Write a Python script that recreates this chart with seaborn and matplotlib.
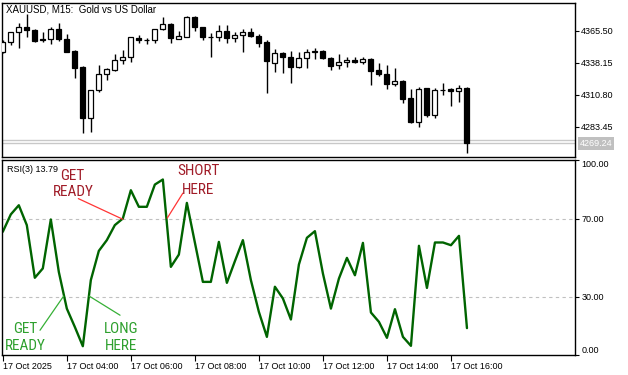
import numpy as np
import pandas as pd
import matplotlib
matplotlib.use("Agg")
import matplotlib.pyplot as plt
import matplotlib.transforms as mtransforms
from matplotlib import font_manager as fm
import seaborn as sns

sns.set_style("white")
plt.rcParams["font.family"] = ["Liberation Sans", "DejaVu Sans"]

# ---------------- data ----------------
opens = [4347.58, 4355.56, 4364.10, 4368.38, 4366.10, 4358.12, 4358.41, 4366.95, 4358.41, 4348.44,
         4334.47, 4290.60, 4314.82, 4328.49, 4332.20, 4340.17, 4342.74, 4358.98, 4357.27, 4357.27,
         4366.67, 4371.23, 4358.69, 4360.40, 4376.93, 4368.38, 4359.83, 4359.83, 4365.53, 4358.98,
         4361.54, 4364.10, 4360.97, 4355.56, 4338.18, 4346.16, 4342.74, 4334.19, 4341.88, 4347.30,
         4348.15, 4341.88, 4335.90, 4338.46, 4340.46, 4338.46, 4341.31, 4331.92, 4328.49, 4319.66,
         4322.51, 4307.70, 4287.75, 4316.24, 4293.45, 4314.82, 4315.39, 4314.25, 4316.81]
highs = [4357.55, 4364.68, 4371.80, 4379.77, 4366.95, 4364.10, 4368.38, 4371.80, 4362.68, 4349.01,
         4334.90, 4315.20, 4336.18, 4333.20, 4345.30, 4349.01, 4360.20, 4361.83, 4359.55, 4367.00,
         4376.93, 4371.80, 4365.53, 4378.35, 4378.35, 4368.70, 4363.25, 4370.37, 4370.37, 4364.68,
         4366.95, 4367.52, 4362.68, 4357.55, 4349.58, 4347.58, 4348.15, 4347.58, 4349.86, 4351.00,
         4349.01, 4342.74, 4345.59, 4342.74, 4342.74, 4342.74, 4341.90, 4338.18, 4336.18, 4333.91,
         4323.36, 4315.39, 4317.10, 4316.60, 4316.24, 4320.52, 4316.24, 4319.09, 4317.20]
lows = [4346.73, 4353.28, 4350.43, 4359.83, 4356.13, 4355.56, 4353.85, 4356.98, 4347.01, 4324.79,
        4278.35, 4279.20, 4312.82, 4323.36, 4331.06, 4336.75, 4339.03, 4355.27, 4353.85, 4355.27,
        4366.30, 4355.27, 4358.40, 4359.83, 4365.53, 4357.55, 4342.74, 4356.98, 4354.70, 4356.13,
        4347.01, 4359.83, 4351.85, 4312.54, 4330.49, 4329.63, 4321.09, 4333.34, 4333.34, 4341.03,
        4341.60, 4331.92, 4333.05, 4334.76, 4338.20, 4336.75, 4319.09, 4327.07, 4315.67, 4318.52,
        4303.42, 4286.90, 4283.48, 4292.03, 4290.60, 4310.54, 4301.14, 4304.85, 4260.69]
closes = [4356.13, 4364.10, 4368.95, 4366.10, 4356.98, 4357.27, 4366.67, 4358.41, 4347.58, 4333.91,
          4290.60, 4314.82, 4328.49, 4332.77, 4340.17, 4342.74, 4359.83, 4357.27, 4357.40, 4366.67,
          4371.23, 4358.98, 4360.97, 4376.93, 4368.38, 4359.83, 4360.10, 4365.53, 4358.98, 4361.54,
          4364.10, 4360.97, 4355.27, 4339.32, 4346.16, 4342.74, 4334.19, 4341.88, 4347.01, 4348.15,
          4341.88, 4335.61, 4338.75, 4340.46, 4338.46, 4341.03, 4331.34, 4328.21, 4319.66, 4322.51,
          4307.41, 4287.75, 4315.39, 4293.45, 4314.82, 4315.00, 4313.96, 4316.81, 4269.24]
rsi = [63.2, 72.1, 76.8, 66.6, 39.6, 44.4, 69.5, 42.6, 23.8, 14.4,
       4.5, 38.4, 53.4, 58.9, 66.6, 70.0, 84.5, 76.0, 76.0, 87.4,
       90.0, 45.2, 51.5, 78.0, 57.7, 37.5, 37.5, 58.0, 37.0, 48.1,
       58.9, 38.4, 22.1, 9.3, 35.0, 29.0, 18.2, 46.4, 60.1, 63.5,
       41.8, 23.8, 39.2, 49.8, 40.9, 57.5, 21.8, 17.0, 8.8, 23.5,
       9.3, 4.7, 56.0, 34.4, 57.7, 57.7, 56.3, 61.1, 13.79]

time_labels = ["17 Oct 2025", "17 Oct 04:00", "17 Oct 06:00", "17 Oct 08:00",
               "17 Oct 10:00", "17 Oct 12:00", "17 Oct 14:00", "17 Oct 16:00"]
time_label_bars = [0, 8, 16, 24, 32, 40, 48, 56]
price_ticks = [4283.45, 4310.80, 4338.15, 4365.50]
rsi_ticks = [0, 30, 70, 100]
rsi_levels = [30, 70]
bid_price = 4269.24
ask_price = 4272.1
title_text = "XAUUSD, M15:  Gold vs US Dollar"
rsi_text = "RSI(3) 13.79"

df = pd.DataFrame({"bar": np.arange(len(opens)), "open": opens, "high": highs,
                   "low": lows, "close": closes, "rsi": rsi})


# ---------------- narrow font for the annotations ----------------
def _is_regular(f):
    w = f.weight
    if isinstance(w, str):
        w_ok = w.lower() in ("normal", "regular", "book", "400")
    else:
        w_ok = w == 400
    return w_ok and f.style == "normal"


def find_narrow_font():
    ttf = fm.fontManager.ttflist
    for name in ["Liberation Sans Narrow", "Arial Narrow", "Roboto Condensed",
                 "Open Sans Condensed", "Noto Sans Condensed", "DejaVu Sans Condensed"]:
        for f in ttf:
            if f.name == name and _is_regular(f):
                return f.fname
    for f in ttf:
        if (str(f.stretch) in ("condensed", "semi-condensed", "75", "87")
                and f.name in ("DejaVu Sans", "Noto Sans", "Open Sans", "Roboto", "Inter", "Lato")
                and _is_regular(f)):
            return f.fname
    return None


narrow_path = find_narrow_font()
if narrow_path:
    ann_fp = fm.FontProperties(fname=narrow_path, size=11)
else:
    ann_fp = fm.FontProperties(family=["Liberation Sans", "DejaVu Sans"], size=9.8)

# ---------------- figure ----------------
W, H = 628, 375
fig = plt.figure(figsize=(W / 100, H / 100), dpi=100)
fig.patch.set_facecolor("white")
ax1 = fig.add_axes([2 / W, 1 - 157 / H, 573 / W, 154 / H])
ax2 = fig.add_axes([2 / W, 1 - 355 / H, 573 / W, 195 / H])

xlim = (-0.1, 71.5)
lab_fs = 6.5

# candles
ax1.vlines(df["bar"], df["low"], df["high"], color="black", lw=1.0, zorder=2)
bull = df["close"] >= df["open"]
body_bottom = np.minimum(df["open"], df["close"])
body_h = np.abs(df["close"] - df["open"])
ax1.bar(df["bar"], body_h, bottom=body_bottom, width=0.62,
        color=np.where(bull, "white", "black"), edgecolor="black", linewidth=0.9, zorder=3)
ax1.axhline(ask_price, color="#c8c8c8", lw=1.0, zorder=1)
ax1.axhline(bid_price, color="#c8c8c8", lw=1.0, zorder=1)
ax1.set_xlim(*xlim)
ax1.set_ylim(4257.5, 4389.2)
ax1.set_xticks([])
ax1.yaxis.tick_right()
ax1.set_yticks(price_ticks)
ax1.set_yticklabels([f"{p:.2f}" for p in price_ticks])
ax1.tick_params(axis="y", right=True, left=False, direction="out", length=3, width=0.8,
                pad=1.5, labelsize=lab_fs, colors="black")
ax1.text(1.0087, bid_price, f"{bid_price:.2f}", color="white", fontsize=lab_fs,
         va="center", ha="left",
         transform=mtransforms.blended_transform_factory(ax1.transAxes, ax1.transData),
         bbox=dict(boxstyle="square,pad=0.2", fc="#c0c0c0", ec="none"), clip_on=False)
ax1.text(4 / 573, 1 - 7 / 154, title_text, transform=ax1.transAxes, fontsize=lab_fs + 0.5,
         va="center", ha="left", color="black")

# RSI
sns.lineplot(data=df, x="bar", y="rsi", ax=ax2, color="#006400", lw=1.7)
for lv in rsi_levels:
    ax2.axhline(lv, color="#c0c0c0", lw=0.8, ls=(0, (3, 3)), zorder=0)
ax2.set_xlim(*xlim)
ax2.set_ylim(0, 100)
ax2.set_xlabel("")
ax2.set_ylabel("")
ax2.yaxis.tick_right()
ax2.set_yticks(rsi_ticks)
ax2.set_yticklabels([f"{v:.2f}" for v in rsi_ticks])
ax2.tick_params(axis="y", right=True, left=False, direction="out", length=3, width=0.8,
                pad=1.5, labelsize=lab_fs, colors="black")
for t in ax2.get_yticklabels():
    if t.get_text() == "100.00":
        t.set_va("top")
    elif t.get_text() == "0.00":
        t.set_va("bottom")
ax2.set_xticks(time_label_bars)
ax2.set_xticklabels(time_labels, ha="left")
ax2.tick_params(axis="x", bottom=True, direction="out", length=4, width=0.8, pad=1.0,
                labelsize=lab_fs, colors="black")
ax2.text(5 / 573, 1 - 9.5 / 195, rsi_text, transform=ax2.transAxes, fontsize=lab_fs,
         va="center", ha="left", color="black")

for ax in (ax1, ax2):
    for s in ax.spines.values():
        s.set_visible(True)
        s.set_color("black")
        s.set_linewidth(1.0)

# annotations (one text per word line, baseline-anchored)
red_txt, red_line = "#a01c28", "#ff3535"
grn_txt, grn_line = "#2ea02e", "#36b036"
annotations = [
    ("GET", 8.71, 90.0, red_txt), ("READY", 8.86, 81.4, red_txt),
    ("SHORT", 24.4, 92.2, red_txt), ("HERE", 24.4, 82.5, red_txt),
    ("GET", 2.78, 11.5, grn_txt), ("READY", 2.78, 2.5, grn_txt),
    ("LONG", 14.8, 11.2, grn_txt), ("HERE", 14.8, 2.5, grn_txt),
]
for txt, bx, by, col in annotations:
    ax2.text(bx, by, txt, color=col, ha="center", va="baseline", fontproperties=ann_fp)
ax2.plot([9.44, 15.0], [80.2, 69.6], color=red_line, lw=0.9)
ax2.plot([22.5, 20.55], [83.0, 70.2], color=red_line, lw=0.9)
ax2.plot([4.65, 7.6], [12.7, 30.2], color=grn_line, lw=0.9)
ax2.plot([14.65, 10.8], [20.4, 30.2], color=grn_line, lw=0.9)

fig.savefig("out.png", dpi=100, facecolor="white")
